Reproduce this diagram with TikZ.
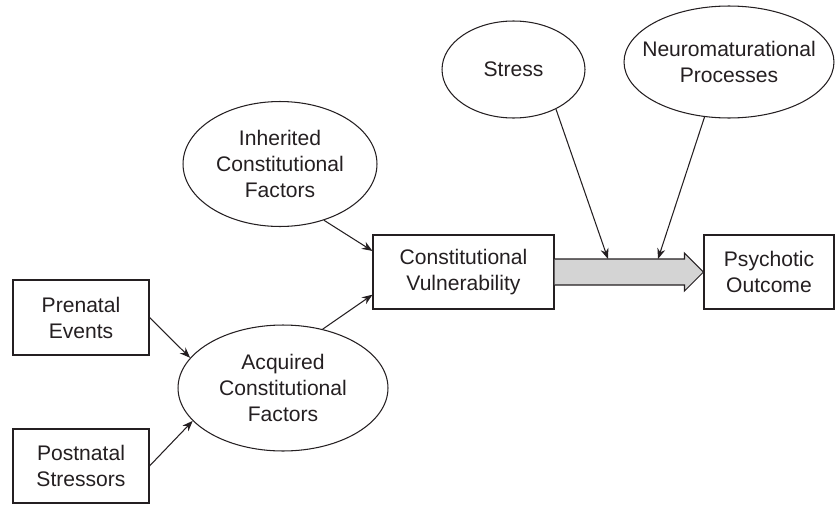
\documentclass[tikz,border=0pt]{standalone}
\usepackage{fontspec}
\setmainfont{Liberation Sans}
\usepackage{tikz}
\usetikzlibrary{shapes.geometric}
\usetikzlibrary{arrows.meta}
\usetikzlibrary{calc}
\definecolor{inkgray}{rgb}{0.14,0.12,0.13}
\definecolor{shaftgray}{rgb}{0.83,0.83,0.83}
\tikzset{
  box/.style={draw=inkgray,line width=0.6pt,rectangle,align=center,inner sep=0pt},
  bubble/.style={draw=inkgray,line width=0.6pt,ellipse,align=center,inner sep=0pt},
  link/.style={draw=inkgray,line width=0.6pt,-{Stealth[length=6pt,width=4.6pt]}},
  bigarrow/.style={draw=inkgray,line width=0.6pt,fill=shaftgray,line join=miter}
}

\begin{document}
\begin{tikzpicture}[x=0.02cm,y=-0.02cm,font=\fontsize{12}{14.8}\selectfont,text=inkgray]
  \useasboundingbox (0,0) rectangle (835,504);
  \node[box,minimum width=2.72cm,minimum height=1.5cm] (pre) at (81,317.5) {Prenatal\\Events};
  \node[box,minimum width=2.72cm,minimum height=1.48cm] (post) at (81,466) {Postnatal\\Stressors};
  \node[bubble,minimum width=4.2cm,minimum height=2.52cm] (acq) at (283,388) {Acquired\\Constitutional\\Factors};
  \node[bubble,minimum width=3.88cm,minimum height=2.5cm] (inh) at (280,164) {Inherited\\Constitutional\\Factors};
  \node[box,minimum width=3.62cm,minimum height=1.48cm] (cv) at (463.5,272) {Constitutional\\Vulnerability};
  \node[box,minimum width=2.6cm,minimum height=1.48cm] (psy) at (769,272) {Psychotic\\Outcome};
  \node[bubble,minimum width=2.86cm,minimum height=1.94cm] (stress) at (513.5,69.5) {Stress};
  \node[bubble,minimum width=4.2cm,minimum height=2.24cm] (neuro) at (729,62) {};
  \node[align=center] (neurotext) at (neuro.center) {Neuromaturational\\Processes};
  %% wide arrow between vulnerability and outcome
  \draw[bigarrow] ($(cv.east)+(0,-13)$) -- ($(psy.west)+(-19,-13)$) -- ($(psy.west)+(-19,-19)$)
    -- (psy.west) -- ($(psy.west)+(-19,19)$) -- ($(psy.west)+(-19,13)$) -- ($(cv.east)+(0,13)$);
  \coordinate (stresshit) at (608,259);
  \coordinate (neurohit) at (658,259);
  \draw[link] (pre.east) -- (acq.162);
  \draw[link] (post.east) -- (acq.200);
  \draw[link] (acq.56) -- (cv.194);
  \draw[link] (inh.-52) -- (cv.167);
  \draw[link] (stress.-43) -- (stresshit);
  \draw[link] (neuro.-114) -- (neurohit);
\end{tikzpicture}
\end{document}
